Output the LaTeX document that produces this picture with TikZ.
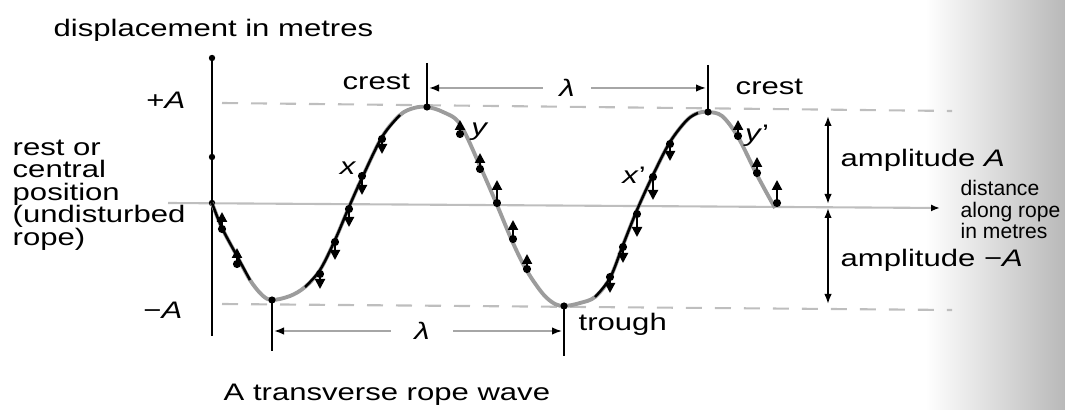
\documentclass[tikz,border=0pt]{standalone}
\usepackage{fontspec}
\setmainfont{Liberation Sans}[FakeStretch=1.3]
\newfontfamily\plainsans{Liberation Sans}
\usepackage{tikz}
\usetikzlibrary{arrows.meta,positioning}
\definecolor{ropegray}{HTML}{9C9C9C}
\definecolor{guidegray}{HTML}{BEBEBE}
\tikzset{
  lbl/.style={font=\fontsize{6.8}{6.4}\selectfont,inner sep=0pt},
  smalllbl/.style={font=\plainsans\fontsize{6}{6.1}\selectfont,inner sep=0pt},
  ax/.style={line width=0.8pt,black},
  rope/.style={line width=1.1pt,ropegray},
  ropedark/.style={line width=0.7pt,black},
  guide/.style={line width=0.6pt,guidegray,dash pattern=on 1.6mm off 1.3mm},
  dimline/.style={line width=0.45pt,gray!70,-{Latex[length=1mm,width=0.75mm,color=black]}},
  amparr/.style={line width=0.5pt,{Latex[length=1mm,width=0.75mm]}-{Latex[length=1mm,width=0.75mm]}},
  pmove/.style={line width=0.6pt,{Circle[length=0.8mm]}-{Triangle[length=1mm,width=1mm]}},
  dot/.style={fill=black}
}
\begin{document}
\begin{tikzpicture}[x=0.1mm,y=-0.1mm]
\useasboundingbox (0,0) rectangle (1065,410);
% page curl at the right edge
\shade[left color=white,right color=gray!55] (925,0) rectangle (1065,410);

% guide lines
\draw[guide] (222,103) -- (952,111);
\draw[guide] (222,304) -- (952,310);
\coordinate (restL) at (168,203);
\coordinate (restR) at (940,208);
\draw[line width=0.6pt,guidegray,-{Latex[length=0.9mm,width=0.7mm,color=black]}] (restL) -- (restR);

% displacement axis
\coordinate (axtop) at (212,58);
\coordinate (axbot) at (212,336);
\draw[ax] (axtop) -- (axbot);
\foreach \yy in {58,157,203} \fill[dot] (212,\yy) circle (3.2);

% the rope
\draw[rope] plot[smooth,tension=0.55] coordinates {(212,203) (222,228) (237,256) (250,280) (262,295) (272,300) (290,296) (305,287) (320,270) (335,240) (349,207) (362,178) (382,137) (400,115) (414,108) (427,107) (443,112) (460,124) (480,166) (497,205) (513,243) (527,271) (543,294) (555,304) (565,306) (580,303) (595,297) (610,278) (623,245) (637,210) (653,175) (670,142) (687,120) (698,113) (708,112) (722,116) (738,137) (757,175) (775,208)};
\draw[ropedark] plot[smooth,tension=0.55] coordinates {(212,203) (222,228) (237,256) (250,280)};
\draw[ropedark] plot[smooth,tension=0.55] coordinates {(305,287) (320,270) (335,240) (349,207) (362,178) (382,137) (400,115)};
\draw[ropedark] plot[smooth,tension=0.55] coordinates {(595,297) (610,278) (623,245) (637,210) (653,175) (670,142) (687,120) (698,113)};

% particle motion
\foreach \px/\ya/\yb in {222/233/212, 237/268/248,
  320/270/289, 335/238/260, 349/205/227, 362/172/195, 382/135/154,
  460/138/120, 480/173/153, 497/207/180, 513/243/220, 527/273/254,
  610/273/293, 623/243/263, 637/210/237, 653/173/200, 670/140/161,
  738/140/120, 757/177/157, 777/207/180}
  \draw[pmove] (\px,\ya) -- (\px,\yb);

% crests and troughs
\coordinate (cr1) at (427,107);  \coordinate (cr1t) at (427,63);
\coordinate (cr2) at (708,112);  \coordinate (cr2t) at (708,65);
\coordinate (tr1) at (272,300);  \coordinate (tr1b) at (272,351);
\coordinate (tr2) at (564,306);  \coordinate (tr2b) at (564,356);
\draw[ax] (cr1t) -- (cr1); \fill[dot] (cr1) circle (3.6);
\draw[ax] (cr2t) -- (cr2); \fill[dot] (cr2) circle (3.6);
\draw[ax] (tr1) -- (tr1b); \fill[dot] (tr1) circle (3.6);
\draw[ax] (tr2) -- (tr2b); \fill[dot] (tr2) circle (3.6);

% wavelengths
\node[lbl,inner xsep=1.6mm] (lamtop) at (567,88) {\textit{λ}};
\coordinate (lamtopL) at (429,88);
\coordinate (lamtopR) at (706,88);
\draw[dimline] (lamtop.west) -- (lamtopL);
\draw[dimline] (lamtop.east) -- (lamtopR);
\node[lbl,inner xsep=2.3mm] (lambot) at (422,331) {\textit{λ}};
\coordinate (lambotL) at (274,331);
\coordinate (lambotR) at (562,331);
\draw[dimline] (lambot.west) -- (lambotL);
\draw[dimline] (lambot.east) -- (lambotR);

% amplitudes
\coordinate (ampT) at (828,116);
\coordinate (ampM1) at (828,204);
\coordinate (ampM2) at (828,208);
\coordinate (ampB) at (828,304);
\draw[amparr] (ampT) -- (ampM1);
\draw[amparr] (ampM2) -- (ampB);

% labels
\node[lbl,anchor=base west] (title) at (53,37) {displacement in metres};
\node[lbl,anchor=base east] (plusA) at (186,109) {+\textit{A}};
\node[lbl,anchor=base east] (minusA) at (183,319) {−\textit{A}};
\node[lbl,anchor=north west,align=left] (rest) at (12,139) {rest or\\central\\position\\(undisturbed\\rope)};
\node[lbl,anchor=base west] (crest1) at (342,90) {crest};
\node[lbl,anchor=base west] (crest2) at (735,95) {crest};
\node[lbl,anchor=base west] (trough) at (578,330) {trough};
\node[lbl] (xlab) at (348,168) {\textit{x}};
\node[lbl] (ylab) at (480,132) {\textit{y}};
\node[lbl] (xplab) at (634,175) {\textit{x}'};
\node[lbl] (yplab) at (757,136) {\textit{y}'};
\node[lbl,anchor=base west] (ampAlab) at (840,167) {amplitude \textit{A}};
\node[lbl,anchor=base west] (ampBlab) at (840,267) {amplitude −\textit{A}};
\node[smalllbl,anchor=north west,align=left] (dist) at (960,180) {distance\\along rope\\in metres};
\node[lbl,anchor=base west] (caption) at (223,400) {A transverse rope wave};
\end{tikzpicture}
\end{document}
